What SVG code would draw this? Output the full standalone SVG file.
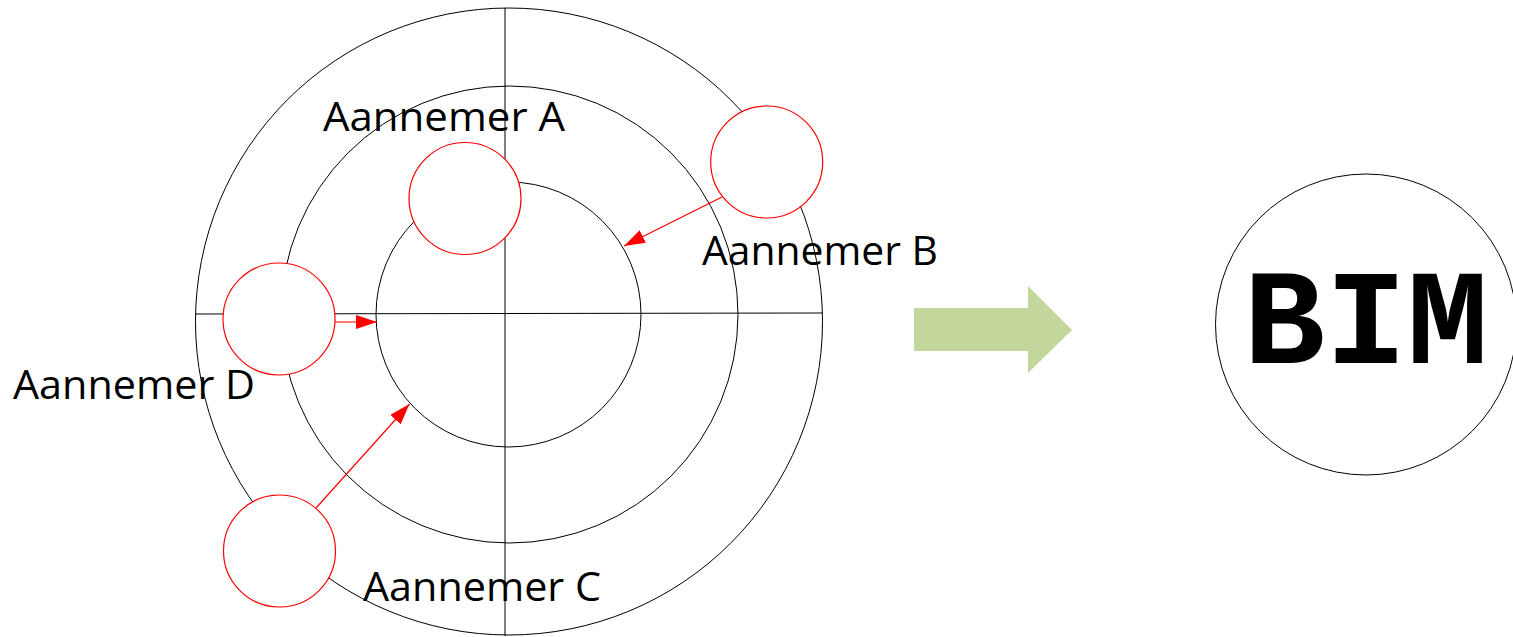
<svg xmlns="http://www.w3.org/2000/svg" width="1513" height="637" viewBox="0 0 1513 637">
<style>
.ring{fill:none;stroke:#000;stroke-width:1}
.axis{stroke:#000;stroke-width:1}
.node{fill:#fff;stroke:#ff0000;stroke-width:1.2}
.link{stroke:#ff0000;stroke-width:1.2;fill:none;marker-end:url(#ah)}
.lbl{font-family:"Open Sans","Liberation Sans",sans-serif;font-size:40px;fill:#000}
</style>
<defs>
<marker id="ah" markerUnits="userSpaceOnUse" markerWidth="21" markerHeight="14" refX="21" refY="7" orient="auto">
<path d="M0,0 L21,7 L0,14 z" fill="#ff0000"/>
</marker>
</defs>
<g id="rings">
<circle class="ring" cx="509" cy="321.5" r="313.5"/>
<circle class="ring" cx="509.5" cy="314.5" r="228.5"/>
<circle class="ring" cx="508.5" cy="314.5" r="132.5"/>
<line class="axis" x1="505" y1="8" x2="505" y2="636"/>
<line class="axis" x1="195.5" y1="314" x2="822.5" y2="313"/>
</g>
<g id="node-a"><circle class="node" cx="465" cy="198.5" r="56"/></g>
<g id="node-b"><circle class="node" cx="766.7" cy="162" r="56"/></g>
<g id="node-c"><circle class="node" cx="279.5" cy="551" r="56"/></g>
<g id="node-d"><circle class="node" cx="279" cy="319" r="56"/></g>
<g id="connectors">
<line class="link" x1="722" y1="197" x2="624" y2="246"/>
<line class="link" x1="335" y1="322" x2="377" y2="322"/>
<line class="link" x1="316" y1="508" x2="409.5" y2="404"/>
</g>
<g id="labels">
<text class="lbl" x="323" y="131" textLength="242" lengthAdjust="spacingAndGlyphs">Aannemer A</text>
<text class="lbl" x="702" y="265" textLength="236" lengthAdjust="spacingAndGlyphs">Aannemer B</text>
<text class="lbl" x="363" y="601" textLength="238" lengthAdjust="spacingAndGlyphs">Aannemer C</text>
<text class="lbl" x="13" y="399" textLength="242" lengthAdjust="spacingAndGlyphs">Aannemer D</text>
</g>
<g id="transition-arrow">
<polygon points="914,308 1028,308 1028,286 1072,330 1028,373 1028,351 914,351" fill="#c3d69b"/>
</g>
<g id="bim">
<circle cx="1366" cy="324.5" r="150.5" fill="#fff" stroke="#000" stroke-width="1"/>
<text x="1366" y="363" text-anchor="middle" font-family="'Courier New','Liberation Mono',monospace" font-weight="bold" font-size="136" fill="#000">BIM</text>
</g>
</svg>
